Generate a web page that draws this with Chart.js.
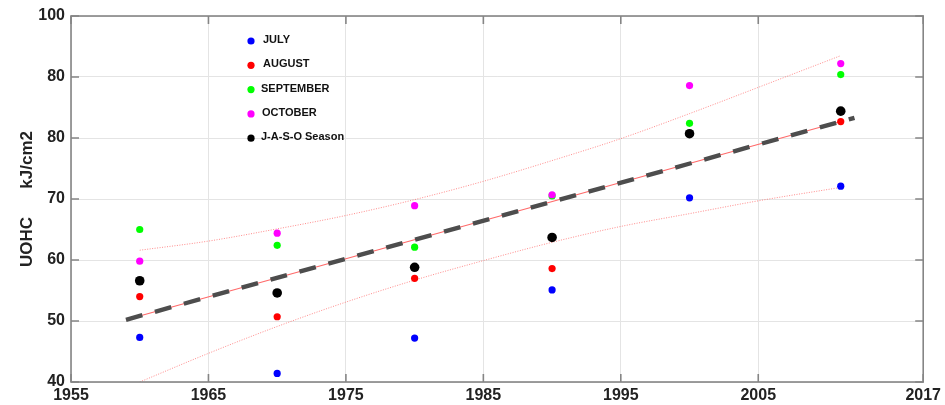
<!DOCTYPE html>
<html><head><meta charset="utf-8">
<script src="https://cdn.jsdelivr.net/npm/chart.js@4.4.1/dist/chart.umd.min.js"></script>
<style>html,body{margin:0;padding:0;background:#fff}#wrap{width:945px;height:405px}</style>
</head><body><div id="wrap"><canvas id="c" width="945" height="405"></canvas></div>
<script>
const years = [1960, 1970, 1980, 1990, 2000, 2011];
const july = [47.3, 41.4, 47.2, 55.1, 70.2, 72.1];
const august = [54.0, 50.7, 57.0, 58.6, 80.7, 82.7];
const september = [65.0, 62.4, 62.1, 70.5, 82.4, 90.4];
const october = [59.8, 64.4, 68.9, 70.7, 88.6, 92.2];
const season = [56.6, 54.6, 58.8, 63.7, 80.7, 84.4];
const trendYears = [1959, 2012];
const trendValues = [50.2, 83.3];
const fitYears = [1959, 2011];
const fitValues = [50.2, 82.7];
const bandYears = [1960, 1965, 1970, 1975, 1980, 1985, 1990, 1995, 2000, 2005, 2011];
const upperBand = [61.6, 63.1, 65.1, 67.3, 69.9, 72.9, 76.3, 79.9, 84.0, 88.3, 93.5];
const lowerBand = [40.0, 44.7, 49.1, 53.1, 56.7, 59.9, 62.9, 65.5, 67.6, 69.7, 71.9];
const xTicks = [1955, 1965, 1975, 1985, 1995, 2005, 2017];
const yTicks = [40, 50, 60, 70, 80, 90, 100];
const yTickLabels = ['40', '50', '60', '70', '80', '80', '100'];
const legendLabels = ['JULY', 'AUGUST', 'SEPTEMBER', 'OCTOBER', 'J-A-S-O Season'];
const seriesColors = ['#0000ff', '#ff0000', '#00ff00', '#ff00ff', '#000000'];
const yTitle = 'UOHC      kJ/cm2';

const FONT = "'Liberation Sans', Arial, Helvetica, sans-serif";
const pts = (xs, ys) => xs.map((x, i) => ({x: x, y: ys[i]}));
const seriesValues = [july, august, september, october, season];

const pointSets = seriesValues.map((vals, i) => ({
  label: legendLabels[i],
  data: pts(years, vals),
  showLine: false,
  backgroundColor: seriesColors[i],
  borderColor: seriesColors[i],
  pointRadius: i === 4 ? 4.8 : 3.6,
  pointBorderWidth: 0,
  order: 5 - i
}));

const lineSets = [
  {label: 'trend', data: pts(trendYears, trendValues), showLine: true, borderColor: '#4d4d4d',
   borderWidth: 4.4, borderDash: [17, 13], pointRadius: 0, borderCapStyle: 'butt', order: 6},
  {label: 'fit', data: pts(fitYears, fitValues), showLine: true, borderColor: '#ff6a6a',
   borderWidth: 1.2, pointRadius: 0, order: 7},
  {label: 'upper', data: pts(bandYears, upperBand), showLine: true, borderColor: 'rgba(255,90,90,0.7)',
   borderWidth: 1, borderDash: [1, 1.5], pointRadius: 0, cubicInterpolationMode: 'monotone', order: 8},
  {label: 'lower', data: pts(bandYears, lowerBand), showLine: true, borderColor: 'rgba(255,90,90,0.7)',
   borderWidth: 1, borderDash: [1, 1.5], pointRadius: 0, cubicInterpolationMode: 'monotone', order: 8}
];

const boxPlugin = {
  id: 'box',
  afterDatasetsDraw(chart) {
    const {ctx, chartArea: a, scales} = chart;
    ctx.save();
    ctx.strokeStyle = '#858585';
    ctx.lineWidth = 1.6;
    ctx.beginPath();
    xTicks.forEach(v => {
      const px = scales.x.getPixelForValue(v);
      ctx.moveTo(px, a.bottom); ctx.lineTo(px, a.bottom - 8);
      ctx.moveTo(px, a.top); ctx.lineTo(px, a.top + 8);
    });
    yTicks.forEach(v => {
      const py = scales.y.getPixelForValue(v);
      ctx.moveTo(a.left, py); ctx.lineTo(a.left + 8, py);
      ctx.moveTo(a.right, py); ctx.lineTo(a.right - 8, py);
    });
    ctx.stroke();
    ctx.strokeRect(a.left, a.top, a.right - a.left, a.bottom - a.top);
    ctx.restore();
  },
  afterDraw(chart) {
    const {ctx} = chart;
    ctx.save();
    ctx.font = "bold 11px " + FONT;
    ctx.textBaseline = 'middle';
    ctx.textAlign = 'left';
    const textX = [263, 263, 261, 262, 261];
    legendLabels.forEach((lab, i) => {
      const y = 41 + i * 24.3;
      ctx.fillStyle = seriesColors[i];
      ctx.beginPath();
      ctx.arc(251, y, 3.6, 0, Math.PI * 2);
      ctx.fill();
      ctx.fillStyle = '#111';
      ctx.fillText(lab, textX[i], y - 1);
    });
    ctx.restore();
  }
};

new Chart(document.getElementById('c'), {
  type: 'scatter',
  data: {datasets: pointSets.concat(lineSets)},
  options: {
    responsive: false,
    animation: false,
    layout: {padding: {top: 16, right: 18, left: 0, bottom: 0}},
    plugins: {legend: {display: false}, tooltip: {enabled: false}},
    scales: {
      x: {
        type: 'linear', min: 1955, max: 2017,
        afterBuildTicks: s => { s.ticks = xTicks.map(v => ({value: v})); },
        afterFit: s => { s.height = 23; },
        ticks: {callback: v => String(v), padding: 4, color: '#222', maxRotation: 0,
                autoSkip: false, font: {family: FONT, size: 16, weight: 'bold'}},
        grid: {color: '#e4e4e4', lineWidth: 1, drawTicks: false},
        border: {display: false}
      },
      y: {
        type: 'linear', min: 40, max: 100,
        afterBuildTicks: s => { s.ticks = yTicks.map(v => ({value: v})); },
        afterFit: s => { s.width = 71; },
        ticks: {callback: v => yTickLabels[yTicks.indexOf(v)], padding: 6, color: '#222',
                autoSkip: false, font: {family: FONT, size: 16, weight: 'bold'}},
        grid: {color: '#e4e4e4', lineWidth: 1, drawTicks: false},
        border: {display: false},
        title: {display: true, text: yTitle, color: '#222', padding: {top: 17, bottom: 0},
                font: {family: FONT, size: 17, weight: 'bold'}}
      }
    }
  },
  plugins: [boxPlugin]
});
</script>
</body></html>
